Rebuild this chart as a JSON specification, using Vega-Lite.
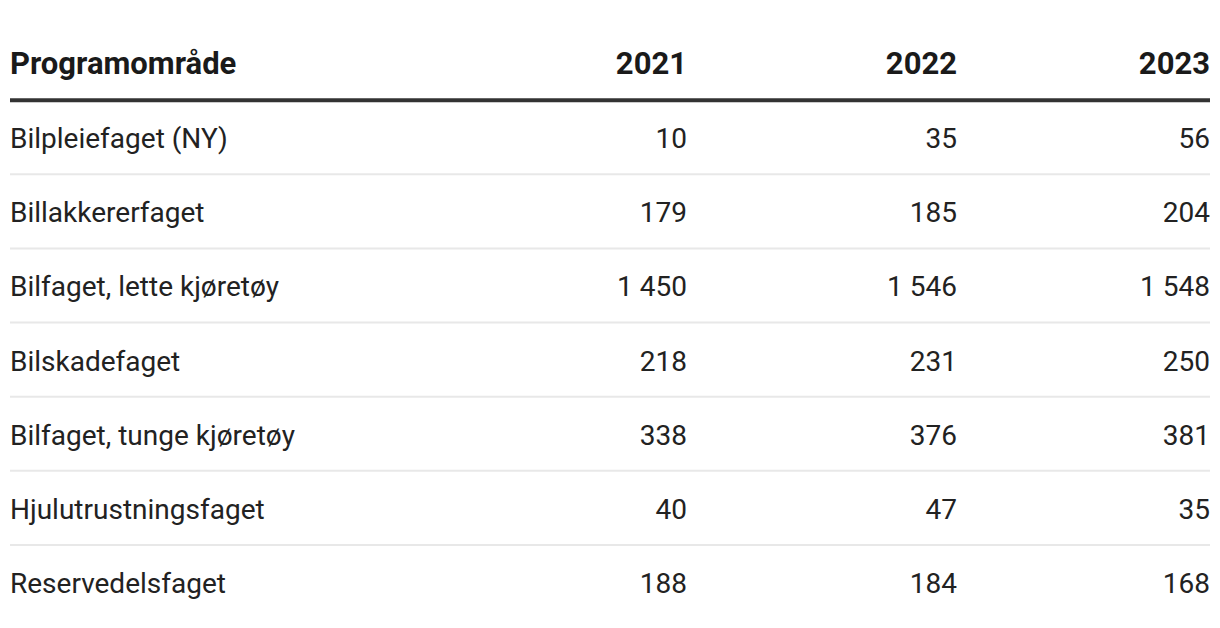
{
  "$schema": "https://vega.github.io/schema/vega-lite/v6.json",
  "padding": {"left": 8, "right": 8, "top": 0, "bottom": 0},
  "spacing": 0,
  "bounds": "flush",
  "background": "white",
  "config": {
    "view": {"stroke": null},
    "locale": {"number": {"decimal": ",", "thousands": " ", "grouping": [3], "currency": ["", ""]}},
    "text": {"font": "Roboto"}
  },
  "datasets": {
    "tabell": [
      {"Programområde": "Bilpleiefaget (NY)", "2021": 10, "2022": 35, "2023": 56},
      {"Programområde": "Billakkererfaget", "2021": 179, "2022": 185, "2023": 204},
      {"Programområde": "Bilfaget, lette kjøretøy", "2021": 1450, "2022": 1546, "2023": 1548},
      {"Programområde": "Bilskadefaget", "2021": 218, "2022": 231, "2023": 250},
      {"Programområde": "Bilfaget, tunge kjøretøy", "2021": 338, "2022": 376, "2023": 381},
      {"Programområde": "Hjulutrustningsfaget", "2021": 40, "2022": 47, "2023": 35},
      {"Programområde": "Reservedelsfaget", "2021": 188, "2022": 184, "2023": 168}
    ]
  },
  "resolve": {"scale": {"x": "independent", "y": "shared"}},
  "hconcat": [
    {
      "width": 410, "height": 628,
      "layer": [
        {
          "data": {"name": "tabell"},
          "mark": {"type": "rule", "yOffset": -37},
          "encoding": {
            "y": {"field": "Programområde", "type": "nominal", "axis": null,
                  "scale": {"type": "point", "domain": ["Programområde", "Bilpleiefaget (NY)", "Billakkererfaget", "Bilfaget, lette kjøretøy", "Bilskadefaget", "Bilfaget, tunge kjøretøy", "Hjulutrustningsfaget", "Reservedelsfaget"], "padding": 0.735, "align": 0.578}},
            "strokeWidth": {"condition": {"test": "datum['Programområde'] === 'Bilpleiefaget (NY)'", "value": 4}, "value": 2},
            "color": {"condition": {"test": "datum['Programområde'] === 'Bilpleiefaget (NY)'", "value": "#333333"}, "value": "#e8e8e8"}
          }
        },
        {
          "data": {"values": [{"tittel": "Programområde"}]},
          "mark": {"type": "text", "align": "left", "baseline": "middle", "dy": 2, "fontSize": 31, "fontWeight": "bold", "color": "#1a1a1a"},
          "encoding": {
            "x": {"datum": "Programområde", "type": "nominal", "axis": null, "scale": {"type": "point", "padding": 0, "align": 0}},
            "y": {"datum": "Programområde", "type": "nominal"},
            "text": {"field": "tittel", "type": "nominal"}
          }
        },
        {
          "data": {"name": "tabell"},
          "mark": {"type": "text", "align": "left", "baseline": "middle", "dy": 3, "fontSize": 28, "color": "#222222"},
          "encoding": {
            "x": {"datum": "Programområde", "type": "nominal"},
            "y": {"field": "Programområde", "type": "nominal"},
            "text": {"field": "Programområde", "type": "nominal"}
          }
        }
      ]
    },
    {
      "width": 267, "height": 628,
      "layer": [
        {
          "data": {"name": "tabell"},
          "mark": {"type": "rule", "yOffset": -37},
          "encoding": {
            "y": {"field": "Programområde", "type": "nominal", "axis": null,
                  "scale": {"type": "point", "domain": ["Programområde", "Bilpleiefaget (NY)", "Billakkererfaget", "Bilfaget, lette kjøretøy", "Bilskadefaget", "Bilfaget, tunge kjøretøy", "Hjulutrustningsfaget", "Reservedelsfaget"], "padding": 0.735, "align": 0.578}},
            "strokeWidth": {"condition": {"test": "datum['Programområde'] === 'Bilpleiefaget (NY)'", "value": 4}, "value": 2},
            "color": {"condition": {"test": "datum['Programområde'] === 'Bilpleiefaget (NY)'", "value": "#333333"}, "value": "#e8e8e8"}
          }
        },
        {
          "data": {"values": [{"tittel": "2021"}]},
          "mark": {"type": "text", "align": "right", "baseline": "middle", "dy": 2, "fontSize": 31, "fontWeight": "bold", "color": "#1a1a1a"},
          "encoding": {
            "x": {"datum": "2021", "type": "nominal", "axis": null, "scale": {"type": "point", "padding": 0, "align": 1}},
            "y": {"datum": "Programområde", "type": "nominal"},
            "text": {"field": "tittel", "type": "nominal"}
          }
        },
        {
          "data": {"name": "tabell"},
          "mark": {"type": "text", "align": "right", "baseline": "middle", "dy": 3, "fontSize": 28, "color": "#222222"},
          "encoding": {
            "x": {"datum": "2021", "type": "nominal"},
            "y": {"field": "Programområde", "type": "nominal"},
            "text": {"field": "2021", "type": "quantitative", "format": ",d"}
          }
        }
      ]
    },
    {
      "width": 270, "height": 628,
      "layer": [
        {
          "data": {"name": "tabell"},
          "mark": {"type": "rule", "yOffset": -37},
          "encoding": {
            "y": {"field": "Programområde", "type": "nominal", "axis": null,
                  "scale": {"type": "point", "domain": ["Programområde", "Bilpleiefaget (NY)", "Billakkererfaget", "Bilfaget, lette kjøretøy", "Bilskadefaget", "Bilfaget, tunge kjøretøy", "Hjulutrustningsfaget", "Reservedelsfaget"], "padding": 0.735, "align": 0.578}},
            "strokeWidth": {"condition": {"test": "datum['Programområde'] === 'Bilpleiefaget (NY)'", "value": 4}, "value": 2},
            "color": {"condition": {"test": "datum['Programområde'] === 'Bilpleiefaget (NY)'", "value": "#333333"}, "value": "#e8e8e8"}
          }
        },
        {
          "data": {"values": [{"tittel": "2022"}]},
          "mark": {"type": "text", "align": "right", "baseline": "middle", "dy": 2, "fontSize": 31, "fontWeight": "bold", "color": "#1a1a1a"},
          "encoding": {
            "x": {"datum": "2022", "type": "nominal", "axis": null, "scale": {"type": "point", "padding": 0, "align": 1}},
            "y": {"datum": "Programområde", "type": "nominal"},
            "text": {"field": "tittel", "type": "nominal"}
          }
        },
        {
          "data": {"name": "tabell"},
          "mark": {"type": "text", "align": "right", "baseline": "middle", "dy": 3, "fontSize": 28, "color": "#222222"},
          "encoding": {
            "x": {"datum": "2022", "type": "nominal"},
            "y": {"field": "Programområde", "type": "nominal"},
            "text": {"field": "2022", "type": "quantitative", "format": ",d"}
          }
        }
      ]
    },
    {
      "width": 253, "height": 628,
      "layer": [
        {
          "data": {"name": "tabell"},
          "mark": {"type": "rule", "yOffset": -37},
          "encoding": {
            "y": {"field": "Programområde", "type": "nominal", "axis": null,
                  "scale": {"type": "point", "domain": ["Programområde", "Bilpleiefaget (NY)", "Billakkererfaget", "Bilfaget, lette kjøretøy", "Bilskadefaget", "Bilfaget, tunge kjøretøy", "Hjulutrustningsfaget", "Reservedelsfaget"], "padding": 0.735, "align": 0.578}},
            "strokeWidth": {"condition": {"test": "datum['Programområde'] === 'Bilpleiefaget (NY)'", "value": 4}, "value": 2},
            "color": {"condition": {"test": "datum['Programområde'] === 'Bilpleiefaget (NY)'", "value": "#333333"}, "value": "#e8e8e8"}
          }
        },
        {
          "data": {"values": [{"tittel": "2023"}]},
          "mark": {"type": "text", "align": "right", "baseline": "middle", "dy": 2, "fontSize": 31, "fontWeight": "bold", "color": "#1a1a1a"},
          "encoding": {
            "x": {"datum": "2023", "type": "nominal", "axis": null, "scale": {"type": "point", "padding": 0, "align": 1}},
            "y": {"datum": "Programområde", "type": "nominal"},
            "text": {"field": "tittel", "type": "nominal"}
          }
        },
        {
          "data": {"name": "tabell"},
          "mark": {"type": "text", "align": "right", "baseline": "middle", "dy": 3, "fontSize": 28, "color": "#222222"},
          "encoding": {
            "x": {"datum": "2023", "type": "nominal"},
            "y": {"field": "Programområde", "type": "nominal"},
            "text": {"field": "2023", "type": "quantitative", "format": ",d"}
          }
        }
      ]
    }
  ]
}
